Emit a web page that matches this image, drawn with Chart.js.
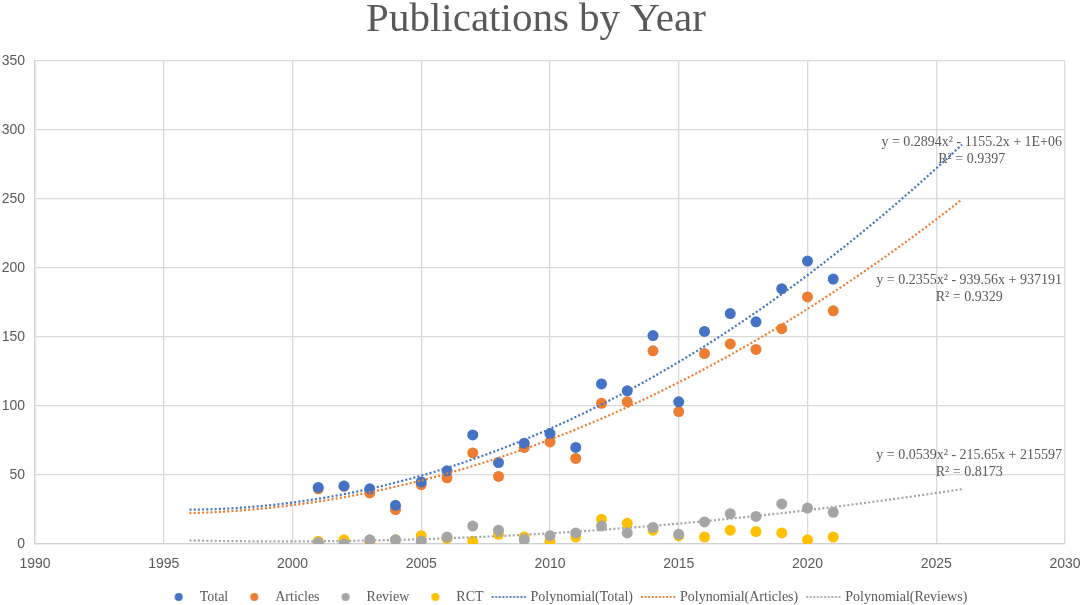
<!DOCTYPE html>
<html>
<head>
<meta charset="utf-8">
<script src="https://cdn.jsdelivr.net/npm/chart.js@4.4.1/dist/chart.umd.min.js"></script>
<style>
  html, body { margin: 0; padding: 0; background: #fff; }
</style>
</head>
<body>
<canvas id="graficoPublicacoes" width="1080" height="605"></canvas>
<script>
// Dados
const anos = [2001, 2002, 2003, 2004, 2005, 2006, 2007, 2008, 2009, 2010, 2011,
              2012, 2013, 2014, 2015, 2016, 2017, 2018, 2019, 2020, 2021];
const total    = [41, 42, 40, 28, 45, 53, 79, 59, 73, 80, 70, 116, 111, 151, 103, 154, 167, 161, 185, 205, 192];
const artigos  = [40, 42, 37, 25, 43, 48, 66, 49, 70, 74, 62, 102, 103, 140, 96, 138, 145, 141, 156, 179, 169];
const revisoes = [1, 0, 3, 3, 2, 5, 13, 10, 3, 6, 8, 13, 8, 12, 7, 16, 22, 20, 29, 26, 23];
const rct      = [2, 3, 1, 3, 6, 4, 2, 7, 5, 2, 5, 18, 15, 10, 6, 5, 10, 9, 8, 3, 5];

const ticksX = [1990, 1995, 2000, 2005, 2010, 2015, 2020, 2025, 2030];
const ticksY = [0, 50, 100, 150, 200, 250, 300, 350];

const equacoes = [
    ['y = 0.2894x\u00B2 - 1155.2x + 1E+06', 'R\u00B2 = 0.9397'],
    ['y = 0.2355x\u00B2 - 939.56x + 937191', 'R\u00B2 = 0.9329'],
    ['y = 0.0539x\u00B2 - 215.65x + 215597', 'R\u00B2 = 0.8173']
];

const AZUL = '#4472C4', LARANJA = '#ED7D31', CINZA = '#A5A5A5', AMARELO = '#FFC000';
const TEXTO = '#595959';
const SERIFA = '"Liberation Serif", "Times New Roman", serif';

// Ajuste polinomial de grau 2 (mínimos quadrados), como a linha de tendência do Excel
function ajustePolinomial(xs, ys) {
    const n = xs.length;
    const m = xs.reduce((a, b) => a + b, 0) / n;
    const s = [0, 0, 0, 0, 0], t = [0, 0, 0];
    xs.forEach((x, i) => {
        const u = x - m;
        let p = 1;
        for (let k = 0; k < 5; k++) {
            s[k] += p;
            if (k < 3) t[k] += p * ys[i];
            p *= u;
        }
    });
    const det = M => M[0][0] * (M[1][1] * M[2][2] - M[1][2] * M[2][1])
                   - M[0][1] * (M[1][0] * M[2][2] - M[1][2] * M[2][0])
                   + M[0][2] * (M[1][0] * M[2][1] - M[1][1] * M[2][0]);
    const A = [[s[4], s[3], s[2]], [s[3], s[2], s[1]], [s[2], s[1], s[0]]];
    const B = [t[2], t[1], t[0]];
    const D = det(A);
    const col = (j) => A.map((linha, i) => linha.map((v, k) => (k === j ? B[i] : v)));
    const a = det(col(0)) / D, b = det(col(1)) / D, c = det(col(2)) / D;
    return x => a * (x - m) * (x - m) + b * (x - m) + c;
}

// Linha de tendência de 1996 a 2026 (5 anos antes e depois)
function tendencia(ys) {
    const f = ajustePolinomial(anos, ys);
    const pontos = [];
    for (let x = anos[0] - 5; x <= anos[anos.length - 1] + 5.001; x += 0.5) {
        pontos.push({ x: x, y: f(x) });
    }
    return pontos;
}

const pares = ys => anos.map((a, i) => ({ x: a, y: ys[i] }));

// Marcadores da legenda desenhados em pequenos canvas
function marcadorPonto(cor) {
    const c = document.createElement('canvas');
    c.width = 28; c.height = 10;
    const g = c.getContext('2d');
    g.fillStyle = cor;
    g.beginPath();
    g.arc(7, 5, 4, 0, Math.PI * 2);
    g.fill();
    return c;
}
function marcadorLinha(cor) {
    const c = document.createElement('canvas');
    c.width = 60; c.height = 4;
    const g = c.getContext('2d');
    g.fillStyle = cor;
    for (let x = 5; x < 41; x += 3.6) g.fillRect(x, 1, 1.8, 2);
    return c;
}

const marcadores = [
    marcadorPonto(AZUL), marcadorPonto(LARANJA), marcadorPonto(CINZA), marcadorPonto(AMARELO),
    marcadorLinha(AZUL), marcadorLinha(LARANJA), marcadorLinha(CINZA)
];

function serieTendencia(rotulo, ys, cor) {
    return {
        label: rotulo,
        data: tendencia(ys),
        showLine: true,
        borderColor: cor,
        borderWidth: 2.2,
        borderDash: [2, 2.2],
        pointRadius: 0,
        order: 0
    };
}
function seriePontos(rotulo, ys, cor) {
    return {
        label: rotulo,
        data: pares(ys),
        backgroundColor: cor,
        borderColor: cor,
        pointRadius: 5.5,
        pointBorderWidth: 0,
        order: 1
    };
}

// Plugin: equações das linhas de tendência
const pluginEquacoes = {
    id: 'equacoes',
    afterDatasetsDraw(chart) {
        const { ctx, chartArea, scales } = chart;
        const ancoras = [291, 191, 64];
        ctx.save();
        ctx.font = '14px ' + SERIFA;
        ctx.fillStyle = TEXTO;
        ctx.textAlign = 'center';
        ctx.textBaseline = 'middle';
        equacoes.forEach((linhas, i) => {
            const w = ctx.measureText(linhas[0]).width;
            const cx = chartArea.right - 3 - w / 2;
            const y = scales.y.getPixelForValue(ancoras[i]);
            ctx.fillText(linhas[0], cx, y);
            ctx.fillText(linhas[1], cx, y + 17);
        });
        ctx.restore();
    }
};

// Plugin: desloca a legenda e o título para a posição da original
const pluginLegenda = {
    id: 'ajusteLegenda',
    afterLayout(chart) {
        const l = chart.legend;
        l.left += 33; l.right += 33;
        l.top -= 6; l.bottom -= 6;
        const t = chart.titleBlock;
        t.left -= 4; t.right -= 4;
    }
};

function criarGrafico() {
    const ctx = document.getElementById('graficoPublicacoes').getContext('2d');

    window.meuGrafico = new Chart(ctx, {
        type: 'scatter',
        data: {
            datasets: [
                seriePontos('Total', total, AZUL),
                seriePontos('Articles', artigos, LARANJA),
                seriePontos('Review', revisoes, CINZA),
                seriePontos('RCT', rct, AMARELO),
                serieTendencia('Polynomial(Total)', total, AZUL),
                serieTendencia('Polynomial(Articles)', artigos, LARANJA),
                serieTendencia('Polynomial(Reviews)', revisoes, CINZA)
            ]
        },
        options: {
            responsive: false,
            animation: false,
            layout: { padding: { top: 0, right: 0, bottom: -15, left: 0 } },
            scales: {
                x: {
                    type: 'linear',
                    min: 1990,
                    max: 2030,
                    afterBuildTicks: axis => { axis.ticks = ticksX.map(v => ({ value: v })); },
                    afterFit: axis => {
                        axis.height = 26;
                        axis.paddingLeft = 16;
                        axis.paddingRight = 15;
                    },
                    grid: { color: '#d9d9d9', lineWidth: 1.3, drawTicks: false },
                    border: { color: '#d0d0d0', width: 1.3 },
                    ticks: {
                        padding: 12,
                        color: TEXTO,
                        font: { family: '"Liberation Sans", Arial', size: 14 },
                        callback: v => String(v)
                    }
                },
                y: {
                    min: 0,
                    max: 350,
                    afterBuildTicks: axis => { axis.ticks = ticksY.map(v => ({ value: v })); },
                    afterFit: axis => { axis.width = 35; },
                    grid: { color: '#d9d9d9', lineWidth: 1.3, drawTicks: false },
                    border: { color: '#d0d0d0', width: 1.3 },
                    ticks: {
                        padding: 10,
                        color: TEXTO,
                        font: { family: '"Liberation Sans", Arial', size: 14 }
                    }
                }
            },
            plugins: {
                title: {
                    display: true,
                    text: 'Publications by Year',
                    color: TEXTO,
                    font: { family: SERIFA, size: 41, weight: 'normal', lineHeight: 1 },
                    padding: { top: 0, bottom: 20 }
                },
                legend: {
                    position: 'bottom',
                    labels: {
                        usePointStyle: true,
                        pointStyleWidth: 14,
                        boxHeight: 10,
                        padding: 26,
                        color: TEXTO,
                        font: { family: SERIFA, size: 14 },
                        generateLabels: chart => chart.data.datasets.map((ds, i) => ({
                            text: ds.label,
                            fillStyle: ds.borderColor,
                            strokeStyle: ds.borderColor,
                            lineWidth: 0,
                            pointStyle: marcadores[i],
                            fontColor: TEXTO,
                            hidden: !chart.isDatasetVisible(i),
                            datasetIndex: i
                        }))
                    }
                },
                tooltip: { enabled: false }
            }
        },
        plugins: [pluginEquacoes, pluginLegenda]
    });
}

window.addEventListener('DOMContentLoaded', criarGrafico);
</script>
</body>
</html>
